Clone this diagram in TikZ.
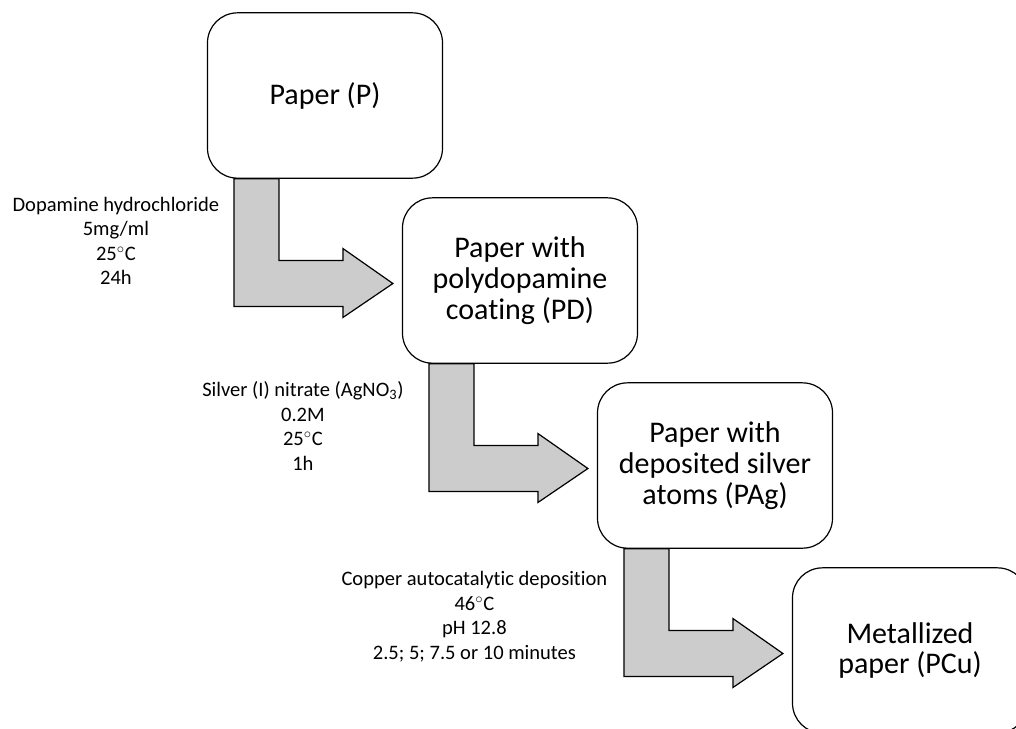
\documentclass[tikz,border=0pt]{standalone}
\usepackage{fontspec}
\setmainfont{Carlito}[Ligatures=NoCommon]
\usetikzlibrary{positioning}
\tikzstyle{stage} = [rectangle, rounded corners=22.5pt, minimum width=176.25pt, minimum height=124pt, align=center, draw=black, fill=white, line width=0.9pt, font=\fontsize{22.5}{23}\selectfont]
\tikzstyle{cond} = [align=center, font=\fontsize{15.4}{18.4}\selectfont]
\tikzstyle{bent} = [draw=black, line width=0.9pt, fill=gray!40]

\begin{document}
\begin{tikzpicture}[x=0.75pt, y=0.75pt, node distance=138.75pt and 146.25pt, on grid]

\useasboundingbox (0,0) rectangle (1016,-728);
\clip (0,0) rectangle (1016,-728);

\node (p) [stage] at (325,-95.5) {Paper (P)};
\node (pd) [stage, below right=of p] {Paper with\\polydopamine\\coating (PD)};
\node (pag) [stage, below right=of pd] {Paper with\\deposited silver\\atoms (PAg)};
\node (pcu) [stage, below right=of pag] {Metallized\\paper (PCu)};

\node (c1) [cond] at ([shift={(-91,-62)}]p.south west) {Dopamine hydrochloride\\5mg/ml\\25$^\circ$C\\24h};
\node (c2) [cond] at ([shift={(-99,-62)}]pd.south west) {Silver (I) nitrate (AgNO\textsubscript{3})\\0.2M\\25$^\circ$C\\1h};
\node (c3) [cond] at ([shift={(-122.5,-68)}]pag.south west) {Copper autocatalytic deposition\\46$^\circ$C\\pH 12.8\\2.5; 5; 7.5 or 10 minutes};

\draw [bent] ([shift={(27,0)}]p.south west) |- ([shift={(-59,-26)}]pd.west) -- ++(0,-11) -- ([shift={(-9,-3)}]pd.west) -- ++(-50,35) -- ++(0,-12) -| ([shift={(72,0)}]p.south west) -- cycle;
\draw [bent] ([shift={(27,0)}]pd.south west) |- ([shift={(-59,-26)}]pag.west) -- ++(0,-11) -- ([shift={(-9,-3)}]pag.west) -- ++(-50,35) -- ++(0,-12) -| ([shift={(72,0)}]pd.south west) -- cycle;
\draw [bent] ([shift={(27,0)}]pag.south west) |- ([shift={(-59,-26)}]pcu.west) -- ++(0,-11) -- ([shift={(-9,-3)}]pcu.west) -- ++(-50,35) -- ++(0,-12) -| ([shift={(72,0)}]pag.south west) -- cycle;

\end{tikzpicture}
\end{document}
